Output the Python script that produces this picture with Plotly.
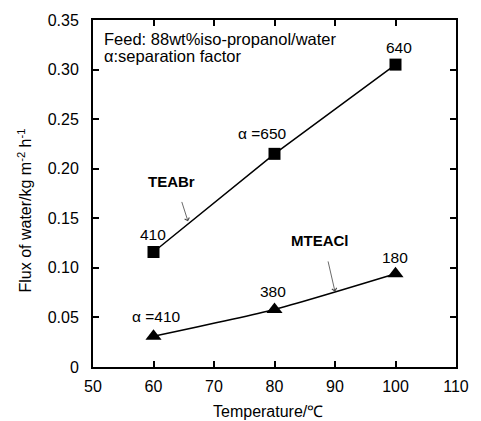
import plotly.graph_objects as go

temperature = [60, 80, 100]
teabr_flux = [0.116, 0.215, 0.305]
mteacl_flux = [0.031, 0.058, 0.094]
teabr_alpha = ["410", "α =650", "640"]
mteacl_alpha = ["α =410", "380", "180"]
x_ticks = [50, 60, 70, 80, 90, 100, 110]
y_ticks = [0, 0.05, 0.10, 0.15, 0.20, 0.25, 0.30, 0.35]
y_tick_text = ["0", "0.05", "0.10", "0.15", "0.20", "0.25", "0.30", "0.35"]

FONT = "Liberation Sans, Arial, sans-serif"

fig = go.Figure()
fig.add_trace(go.Scatter(
    x=temperature, y=teabr_flux, mode="lines+markers",
    line=dict(color="black", width=1.5),
    marker=dict(symbol="square", size=12, color="black"),
    showlegend=False, cliponaxis=False))
fig.add_trace(go.Scatter(
    x=temperature, y=mteacl_flux, mode="lines+markers",
    line=dict(color="black", width=1.5, shape="spline", smoothing=0.6),
    marker=dict(symbol="triangle-up", size=14, color="black"),
    showlegend=False, cliponaxis=False))

ann = []
# TEABr alpha labels
ann.append(dict(x=temperature[0], y=teabr_flux[0], text=teabr_alpha[0], xshift=-1, yshift=17))
ann.append(dict(x=temperature[1], y=teabr_flux[1], text=teabr_alpha[1], xshift=-12, yshift=20))
ann.append(dict(x=temperature[2], y=teabr_flux[2], text=teabr_alpha[2], xshift=3, yshift=17))
# MTEACl alpha labels
ann.append(dict(x=temperature[0], y=mteacl_flux[0], text=mteacl_alpha[0], xshift=3, yshift=20))
ann.append(dict(x=temperature[1], y=mteacl_flux[1], text=mteacl_alpha[1], xshift=-2, yshift=18))
ann.append(dict(x=temperature[2], y=mteacl_flux[2], text=mteacl_alpha[2], xshift=-1, yshift=16))
for a in ann:
    a.update(showarrow=False, xref="x", yref="y", font=dict(family=FONT, size=15.5, color="black"))

# series names
ann.append(dict(x=63.0, y=0.187, xref="x", yref="y", text="<b>TEABr</b>", showarrow=False,
                font=dict(family=FONT, size=15, color="black")))
ann.append(dict(x=87.5, y=0.128, xref="x", yref="y", text="<b>MTEACl</b>", showarrow=False,
                font=dict(family=FONT, size=15, color="black")))
# arrows
ann.append(dict(x=65.7, y=0.147, ax=64.6, ay=0.168, xref="x", yref="y", axref="x", ayref="y",
                text="", showarrow=True, arrowhead=4, arrowsize=1.2, arrowwidth=0.8, arrowcolor="#444"))
ann.append(dict(x=90.0, y=0.076, ax=88.8, ay=0.108, xref="x", yref="y", axref="x", ayref="y",
                text="", showarrow=True, arrowhead=4, arrowsize=1.2, arrowwidth=0.8, arrowcolor="#444"))
# feed note (two lines, tight spacing)
ann.append(dict(x=0.026, y=(367 - 38) / 348, xref="paper", yref="paper", xanchor="left", yanchor="middle",
                showarrow=False, text="Feed: 88wt%iso-propanol/water",
                font=dict(family=FONT, size=16.5, color="black")))
ann.append(dict(x=0.026, y=(367 - 55) / 348, xref="paper", yref="paper", xanchor="left", yanchor="middle",
                showarrow=False, text="α:separation factor",
                font=dict(family=FONT, size=16.5, color="black")))
# axis titles
ann.append(dict(x=(273 - 93) / 374, y=(367 - 412) / 348, xref="paper", yref="paper",
                xanchor="center", yanchor="middle", showarrow=False, text="Temperature/℃",
                font=dict(family=FONT, size=16, color="black")))
ann.append(dict(x=(23 - 93) / 374, y=(367 - 210) / 348, xref="paper", yref="paper",
                xanchor="center", yanchor="middle", showarrow=False, textangle=-90,
                text="Flux of water/kg m<sup>-2</sup> h<sup>-1</sup>",
                font=dict(family=FONT, size=16, color="black")))

fig.update_layout(
    width=481, height=421,
    margin=dict(l=93, r=14, t=19, b=54),
    paper_bgcolor="white", plot_bgcolor="white",
    font=dict(family=FONT, size=16, color="black"),
    annotations=ann,
    xaxis=dict(range=[50, 110], tickvals=x_ticks, ticks="inside", ticklen=6, tickwidth=1.5,
               tickcolor="black", showline=True, linecolor="black", linewidth=2, mirror="ticks",
               showgrid=False, zeroline=False, ticklabelstandoff=4,
               tickfont=dict(family=FONT, size=16)),
    yaxis=dict(range=[0, 0.35], tickvals=y_ticks, ticktext=y_tick_text, ticks="inside", ticklen=6,
               tickwidth=1.5, tickcolor="black", showline=True, linecolor="black", linewidth=2,
               mirror="ticks", showgrid=False, zeroline=False, ticklabelstandoff=9,
               tickfont=dict(family=FONT, size=16)),
)

fig.write_html("out.html")
